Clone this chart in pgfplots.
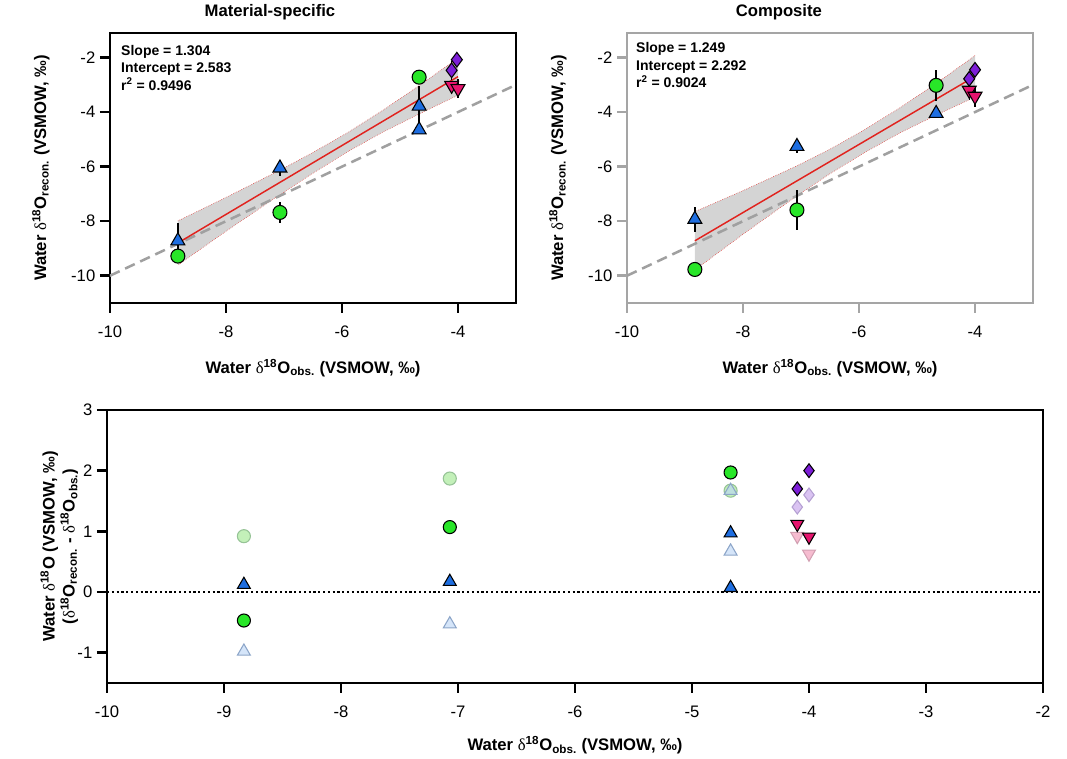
\documentclass[border=0pt]{standalone}
\usepackage{fontspec}
\setmainfont{Liberation Sans}
\newfontfamily\deltafont{Liberation Serif}
\usepackage{pgfplots}
\pgfplotsset{compat=1.18}
\newcommand{\dlt}{{\deltafont\mdseries δ}}
\definecolor{cgreen}{RGB}{40,230,40}
\definecolor{cblue}{RGB}{30,110,225}
\definecolor{cpurple}{RGB}{125,30,215}
\definecolor{cpink}{RGB}{230,20,110}
\definecolor{lgreen}{RGB}{195,240,185}
\definecolor{lgreenE}{RGB}{150,195,150}
\definecolor{lblue}{RGB}{185,212,245}
\definecolor{lblueE}{RGB}{140,165,200}
\definecolor{lpurple}{RGB}{218,195,242}
\definecolor{lpurpleE}{RGB}{180,160,210}
\definecolor{lpink}{RGB}{246,188,208}
\definecolor{lpinkE}{RGB}{210,160,178}
\definecolor{bandgray}{RGB}{212,212,212}
\definecolor{framegray}{RGB}{165,165,165}
\definecolor{fitred}{RGB}{225,35,30}
\definecolor{dashgray}{RGB}{160,160,160}
\pgfplotsset{
  base/.style={scale only axis, tick align=outside, tick pos=left,
    major tick length=7.5pt,
    axis line style={line width=1.9pt},
    every tick/.style={line width=1.9pt,black},
    ticklabel style={font=\fontsize{12.5}{14}\selectfont},
    xticklabel style={yshift=-6pt},
    /pgf/number format/assume math mode=true,
    label style={font=\bfseries\fontsize{12.5}{15}\selectfont},
    title style={font=\bfseries\fontsize{12.5}{15}\selectfont},
  },
  ebar/.style={error bars/.cd, y dir=both, y explicit, error mark=none,
    error bar style={black, line width=1pt}},
  gcirc/.style={only marks, mark=*, mark size=5.25pt, mark options={fill=cgreen, draw=black, line width=0.8pt}},
  btri/.style={only marks, mark=triangle*, mark size=6pt, mark options={fill=cblue, draw=black, line width=0.8pt}},
  pdia/.style={only marks, mark=diamond*, mark size=5.5pt, mark options={fill=cpurple, draw=black, line width=0.8pt}},
  pinv/.style={only marks, mark=triangle*, mark size=6pt, mark options={fill=cpink, draw=black, line width=0.8pt, rotate=180}},
  topbase/.style={base, width=304.5pt, height=202.5pt, xmin=-10, xmax=-3, ymin=-11, ymax=-1.1,
    xtick={-10,-8,-6,-4}, ytick={-10,-8,-6,-4,-2},
    xlabel={Water \dlt\textsuperscript{18}O\textsubscript{obs.} (VSMOW, ‰)},
    ylabel={Water \dlt\textsuperscript{18}O\textsubscript{recon.} (VSMOW, ‰)},
    xlabel style={at={(axis description cs:0.5,-0.24)}, anchor=center},
    ylabel style={at={(axis description cs:-0.17,0.5)}, anchor=center},
  },
}
\begin{document}
\begin{tikzpicture}
\path[use as bounding box] (-80.25pt,-57pt) rectangle (720pt,512.25pt);

% ---------------- Material-specific ----------------
\begin{axis}[topbase, at={(2.25pt,285pt)}, anchor=south west,
  title={Material-specific}, title style={at={(axis description cs:0.394,1)}, anchor=south, yshift=0pt}]
\addplot[fill=bandgray, draw=none] coordinates {
 (-8.83,-7.99) (-8,-7.13) (-7.07,-6.13) (-6.5,-5.48) (-5.9,-4.75) (-5.3,-3.94) (-4.67,-3.03) (-4.0,-2.02)
 (-4.0,-3.38) (-4.67,-4.07) (-5.3,-4.74) (-5.9,-5.45) (-6.5,-6.24) (-7.07,-7.03) (-8,-8.37) (-8.83,-9.61)} -- cycle;
\addplot[fitred, densely dotted, line width=0.4pt] coordinates {
 (-8.83,-7.99) (-8,-7.13) (-7.07,-6.13) (-6.5,-5.48) (-5.9,-4.75) (-5.3,-3.94) (-4.67,-3.03) (-4.0,-2.02)};
\addplot[fitred, densely dotted, line width=0.4pt] coordinates {
 (-4.0,-3.38) (-4.67,-4.07) (-5.3,-4.74) (-5.9,-5.45) (-6.5,-6.24) (-7.07,-7.03) (-8,-8.37) (-8.83,-9.61)};
\addplot[dashgray, line width=1.9pt, dash pattern=on 8pt off 4.5pt] coordinates {(-10,-10) (-3,-3)};
\addplot[fitred, line width=1.1pt] coordinates {(-8.83,-8.8) (-4.0,-2.7)};
\addplot[gcirc, ebar] coordinates {(-8.83,-9.28) +- (0,0.12) (-7.07,-7.68) +- (0,0.37) (-4.67,-2.72) +- (0,0)};
\addplot[btri, ebar] coordinates {(-8.83,-8.72) += (0,0.65) -= (0,0.3) (-7.07,-6.05) +- (0,0.3) (-4.67,-3.78) +- (0,0.72) (-4.67,-4.65) +- (0,0.1)};
\addplot[pdia, ebar] coordinates {(-4.02,-2.08) +- (0,0) (-4.11,-2.47) +- (0,0.35)};
\addplot[pinv, ebar] coordinates {(-4.11,-3.02) +- (0,0.15) (-4.0,-3.14) +- (0,0.35)};
\node[anchor=north west, align=left, font=\bfseries\fontsize{10.5}{13}\selectfont, inner sep=0pt]
  at (axis description cs:0.027,0.955) {Slope = 1.304\\Intercept = 2.583\\r\textsuperscript{2} = 0.9496};
\end{axis}

% ---------------- Composite ----------------
\begin{axis}[topbase, at={(390pt,285pt)}, anchor=south west,
  axis line style={framegray}, every tick/.style={line width=1.9pt,framegray},
  title={Composite}, title style={at={(axis description cs:0.374,1)}, anchor=south, yshift=0pt}]
\addplot[fill=bandgray, draw=none] coordinates {
 (-8.83,-7.65) (-8,-6.88) (-7.07,-5.97) (-6.5,-5.36) (-5.9,-4.64) (-5.3,-3.85) (-4.67,-2.95) (-4.0,-1.93)
 (-4.0,-3.45) (-4.67,-4.11) (-5.3,-4.77) (-5.9,-5.48) (-6.5,-6.26) (-7.07,-7.07) (-8,-8.48) (-8.83,-9.79)} -- cycle;
\addplot[fitred, densely dotted, line width=0.4pt] coordinates {
 (-8.83,-7.65) (-8,-6.88) (-7.07,-5.97) (-6.5,-5.36) (-5.9,-4.64) (-5.3,-3.85) (-4.67,-2.95) (-4.0,-1.93)};
\addplot[fitred, densely dotted, line width=0.4pt] coordinates {
 (-4.0,-3.45) (-4.67,-4.11) (-5.3,-4.77) (-5.9,-5.48) (-6.5,-6.26) (-7.07,-7.07) (-8,-8.48) (-8.83,-9.79)};
\addplot[dashgray, line width=1.9pt, dash pattern=on 8pt off 4.5pt] coordinates {(-10,-10) (-3,-3)};
\addplot[fitred, line width=1.1pt] coordinates {(-8.83,-8.72) (-4.0,-2.69)};
\addplot[btri, ebar] coordinates {(-8.83,-7.93) +- (0,0.45) (-7.07,-5.26) +- (0,0.25) (-4.67,-4.05) +- (0,0.1)};
\addplot[gcirc, ebar] coordinates {(-8.83,-9.77) +- (0,0) (-7.07,-7.59) +- (0,0.72) (-4.67,-3.02) +- (0,0.57)};
\addplot[pdia, ebar] coordinates {(-4.0,-2.45) +- (0,0) (-4.1,-2.78) +- (0,0)};
\addplot[pinv, ebar] coordinates {(-4.1,-3.2) +- (0,0.35) (-4.0,-3.42) +- (0,0.38)};
\node[anchor=north west, align=left, font=\bfseries\fontsize{10.5}{13}\selectfont, inner sep=0pt]
  at (axis description cs:0.022,0.965) {Slope = 1.249\\Intercept = 2.292\\r\textsuperscript{2} = 0.9024};
\end{axis}

% ---------------- Residuals ----------------
\begin{axis}[base, at={(0pt,0pt)}, anchor=south west, width=702pt, height=204.75pt,
  xmin=-10, xmax=-2, ymin=-1.5, ymax=3,
  xtick={-10,-9,-8,-7,-6,-5,-4,-3,-2}, ytick={-1,0,1,2,3},
  xlabel={Water \dlt\textsuperscript{18}O\textsubscript{obs.} (VSMOW, ‰)},
  xlabel style={at={(axis description cs:0.5,-0.227)}, anchor=center},
  ylabel={Water \dlt\textsuperscript{18}O (VSMOW, ‰)\\(\dlt\textsuperscript{18}O\textsubscript{recon.} - \dlt\textsuperscript{18}O\textsubscript{obs.})},
  ylabel style={at={(axis description cs:-0.051,0.5)}, anchor=center, align=center}]
\addplot[black, dotted, line width=1.6pt] coordinates {(-10,0) (-2,0)};
% composite (light)
\addplot[only marks, mark=*, mark size=4.9pt, mark options={fill=lgreen, draw=lgreenE, line width=0.8pt}] coordinates {(-8.83,0.92) (-7.07,1.87) (-4.67,1.67)};
\addplot[only marks, mark=triangle*, mark size=5.6pt, mark options={fill=lblue, draw=lblueE, line width=0.8pt, fill opacity=0.6}] coordinates {(-8.83,-0.98) (-7.07,-0.53) (-4.67,0.67) (-4.67,1.67)};
\addplot[only marks, mark=diamond*, mark size=5.2pt, mark options={fill=lpurple, draw=lpurpleE, line width=0.8pt}] coordinates {(-4.1,1.40) (-4.0,1.60)};
\addplot[only marks, mark=triangle*, mark size=5.6pt, mark options={fill=lpink, draw=lpinkE, line width=0.8pt, rotate=180}] coordinates {(-4.1,0.92) (-4.0,0.63)};
% material-specific (dark)
\addplot[gcirc, mark size=4.9pt] coordinates {(-8.83,-0.47) (-7.07,1.07) (-4.67,1.97)};
\addplot[btri, mark size=5.6pt] coordinates {(-8.83,0.12) (-7.07,0.17) (-4.67,0.97) (-4.67,0.07)};
\addplot[pdia, mark size=5.2pt] coordinates {(-4.1,1.70) (-4.0,2.0)};
\addplot[pinv, mark size=5.6pt] coordinates {(-4.1,1.12) (-4.0,0.91)};
\end{axis}
\end{tikzpicture}
\end{document}
